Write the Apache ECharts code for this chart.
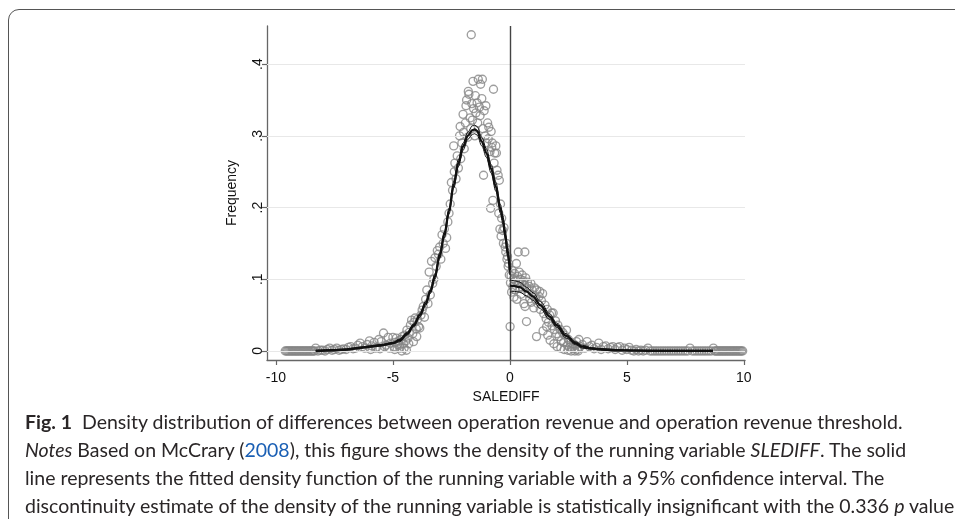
<!DOCTYPE html>
<html>
<head>
<meta charset="utf-8">
<script src="https://cdn.jsdelivr.net/npm/echarts@6/dist/echarts.min.js"></script>
<style>
  html, body { margin: 0; padding: 0; background: #fff; overflow: hidden; }
  #frame { position: absolute; left: 8px; top: 9px; width: 1100px; height: 700px;
    border: 1.6px solid #555; border-radius: 11px; box-sizing: border-box; }
  #chart { position: absolute; left: 0; top: 0; width: 955px; height: 519px; }
  #caption { position: absolute; left: 25px; top: 408px; white-space: nowrap;
    font-family: Lato, "Open Sans", sans-serif;
    font-size: 19.5px; line-height: 28px; color: #2a2627; }
  #caption .lnk { color: #1a5fb4; }
</style>
</head>
<body>
<div id="frame"></div>
<div id="chart"></div>
<div id="caption">
  <div><b>Fig. 1</b>&nbsp; Density distribution of differences between operation revenue and operation revenue threshold.</div>
  <div><i>Notes</i> Based on McCrary (<span class="lnk">2008</span>), this figure shows the density of the running variable <i>SLEDIFF</i>. The solid</div>
  <div>line represents the fitted density function of the running variable with a 95% confidence interval. The</div>
  <div>discontinuity estimate of the density of the running variable is statistically insignificant with the 0.336 <i>p</i> value</div>
</div>
<script>
// axis ticks
const xTicks = [-10, -5, 0, 5, 10];
const yTicks = [0, 0.1, 0.2, 0.3, 0.4];
const yTickLabels = ['0', '.1', '.2', '.3', '.4'];

// bins with zero frequency at both ends
const leftZeroX = [-9.60, -9.55, -9.50, -9.45, -9.40, -9.35, -9.30, -9.25, -9.20, -9.15, -9.10, -9.05, -9.00,
  -8.95, -8.90, -8.85, -8.80, -8.75, -8.70, -8.65, -8.60, -8.55, -8.50, -8.45, -8.40];
const rightZeroX = [8.75, 8.80, 8.85, 8.90, 8.95, 9.00, 9.05, 9.10, 9.15, 9.20, 9.25, 9.30, 9.35, 9.40, 9.45,
  9.50, 9.55, 9.60, 9.65, 9.70, 9.75, 9.80, 9.85, 9.90, 9.95];

// binned frequencies [SALEDIFF, frequency]
const binsLeft = [
  [-8.35, 0.000], [-8.30, 0.004], [-8.20, 0.000], [-8.10, 0.001], [-8.00, 0.001], [-7.90, 0.000], [-7.80, 0.002],
  [-7.70, 0.004], [-7.60, 0.001], [-7.50, 0.002], [-7.40, 0.004], [-7.30, 0.001], [-7.20, 0.002], [-7.10, 0.003],
  [-7.00, 0.002], [-6.90, 0.005], [-6.80, 0.006], [-6.70, 0.003], [-6.60, 0.004], [-6.50, 0.008], [-6.40, 0.011],
  [-6.30, 0.006], [-6.20, 0.004], [-6.10, 0.009], [-6.00, 0.014], [-5.95, 0.002], [-5.90, 0.007], [-5.80, 0.012],
  [-5.75, 0.004], [-5.70, 0.005], [-5.60, 0.016], [-5.55, 0.003], [-5.50, 0.013], [-5.40, 0.025], [-5.35, 0.006],
  [-5.30, 0.008], [-5.20, 0.019], [-5.15, 0.004], [-5.10, 0.011], [-5.00, 0.019],
  [-4.95, 0.006], [-4.92, 0.002], [-4.90, 0.012], [-4.85, 0.018], [-4.80, 0.009], [-4.75, 0.014], [-4.72, 0.008],
  [-4.70, 0.004], [-4.65, 0.016], [-4.62, 0.000], [-4.60, 0.020], [-4.55, 0.010], [-4.52, 0.004], [-4.50, 0.022],
  [-4.45, 0.014], [-4.42, 0.001], [-4.40, 0.029], [-4.35, 0.018], [-4.32, 0.010], [-4.30, 0.026], [-4.25, 0.036],
  [-4.20, 0.043], [-4.15, 0.024], [-4.12, 0.013], [-4.10, 0.040], [-4.05, 0.046], [-4.00, 0.031], [-3.98, 0.020],
  [-3.95, 0.044], [-3.90, 0.034], [-3.85, 0.032], [-3.80, 0.050], [-3.75, 0.057], [-3.70, 0.062], [-3.65, 0.047],
  [-3.60, 0.072], [-3.55, 0.085], [-3.50, 0.066], [-3.45, 0.110], [-3.40, 0.078], [-3.35, 0.125], [-3.30, 0.094],
  [-3.25, 0.100], [-3.20, 0.130], [-3.15, 0.118], [-3.10, 0.140], [-3.05, 0.135], [-3.00, 0.145], [-2.95, 0.128],
  [-2.90, 0.162], [-2.85, 0.150], [-2.80, 0.170], [-2.75, 0.143], [-2.70, 0.158], [-2.65, 0.180], [-2.60, 0.192],
  [-2.55, 0.205], [-2.50, 0.235], [-2.45, 0.224],
  [-2.40, 0.286], [-2.375, 0.250], [-2.35, 0.262], [-2.30, 0.240], [-2.25, 0.272], [-2.20, 0.255], [-2.15, 0.300],
  [-2.125, 0.313], [-2.10, 0.268], [-2.05, 0.290], [-2.00, 0.330], [-1.975, 0.305], [-1.95, 0.282], [-1.90, 0.318],
  [-1.875, 0.342], [-1.85, 0.350], [-1.80, 0.298], [-1.775, 0.362], [-1.75, 0.358], [-1.70, 0.325], [-1.675, 0.310],
  [-1.65, 0.441], [-1.625, 0.345], [-1.60, 0.322], [-1.575, 0.376], [-1.55, 0.338], [-1.50, 0.300], [-1.475, 0.356],
  [-1.45, 0.332], [-1.40, 0.346], [-1.375, 0.318], [-1.35, 0.379], [-1.30, 0.340], [-1.275, 0.328], [-1.25, 0.372],
  [-1.20, 0.352], [-1.175, 0.379], [-1.15, 0.310], [-1.125, 0.245], [-1.10, 0.335], [-1.05, 0.300], [-1.025, 0.342],
  [-1.00, 0.290], [-0.95, 0.318], [-0.925, 0.296], [-0.90, 0.312], [-0.85, 0.278], [-0.825, 0.199], [-0.80, 0.306],
  [-0.775, 0.284], [-0.75, 0.290], [-0.725, 0.210], [-0.70, 0.365], [-0.675, 0.262], [-0.65, 0.276], [-0.60, 0.286],
  [-0.575, 0.276], [-0.55, 0.252], [-0.50, 0.245], [-0.475, 0.192], [-0.45, 0.238], [-0.425, 0.170], [-0.40, 0.205],
  [-0.375, 0.160], [-0.35, 0.185], [-0.30, 0.168], [-0.275, 0.150], [-0.25, 0.172], [-0.20, 0.145], [-0.175, 0.138],
  [-0.15, 0.150], [-0.125, 0.128], [-0.10, 0.132], [-0.075, 0.118], [-0.05, 0.122], [-0.025, 0.106]
];
const binsRight = [
  [0.01, 0.034], [0.025, 0.095], [0.05, 0.105], [0.075, 0.082], [0.10, 0.112], [0.125, 0.090], [0.15, 0.100],
  [0.175, 0.075], [0.20, 0.108], [0.225, 0.085], [0.25, 0.098], [0.28, 0.122], [0.30, 0.072], [0.325, 0.104],
  [0.36, 0.138], [0.375, 0.094], [0.40, 0.110], [0.425, 0.088], [0.45, 0.100], [0.475, 0.079], [0.50, 0.096],
  [0.525, 0.106], [0.55, 0.086], [0.575, 0.098], [0.60, 0.066], [0.625, 0.092], [0.64, 0.138], [0.65, 0.062],
  [0.675, 0.102], [0.71, 0.041], [0.725, 0.088], [0.75, 0.096], [0.80, 0.080], [0.825, 0.090], [0.85, 0.073],
  [0.90, 0.094], [0.925, 0.068], [0.95, 0.085], [1.00, 0.078], [1.025, 0.060], [1.05, 0.088], [1.10, 0.072],
  [1.14, 0.020], [1.15, 0.085], [1.20, 0.066], [1.25, 0.076], [1.28, 0.083], [1.30, 0.058], [1.35, 0.070],
  [1.40, 0.080], [1.42, 0.028], [1.45, 0.052], [1.50, 0.064], [1.55, 0.045], [1.57, 0.034], [1.60, 0.058],
  [1.62, 0.022], [1.65, 0.040], [1.70, 0.050], [1.72, 0.015], [1.78, 0.053], [1.80, 0.035], [1.85, 0.053],
  [1.88, 0.010], [1.90, 0.030], [1.95, 0.042], [2.00, 0.024], [2.02, 0.006], [2.05, 0.036], [2.10, 0.020],
  [2.15, 0.030], [2.18, 0.004], [2.20, 0.014], [2.25, 0.026], [2.30, 0.012], [2.32, 0.002], [2.35, 0.022],
  [2.42, 0.029], [2.45, 0.008], [2.48, 0.001], [2.50, 0.016], [2.55, 0.005], [2.60, 0.012], [2.62, 0.000],
  [2.65, 0.004], [2.70, 0.010], [2.75, 0.003], [2.78, 0.000], [2.80, 0.008], [2.85, 0.013], [2.90, 0.002],
  [2.92, 0.000], [2.95, 0.016], [3.00, 0.006],
  [3.10, 0.009], [3.20, 0.004], [3.30, 0.013], [3.40, 0.006], [3.50, 0.008], [3.60, 0.003], [3.70, 0.005],
  [3.80, 0.011], [3.90, 0.002], [4.00, 0.006], [4.10, 0.007], [4.20, 0.003], [4.30, 0.005], [4.40, 0.006],
  [4.50, 0.002], [4.60, 0.005], [4.70, 0.006], [4.80, 0.001], [4.90, 0.004], [5.00, 0.002], [5.10, 0.005],
  [5.20, 0.001], [5.30, 0.000], [5.40, 0.002], [5.50, 0.000], [5.60, 0.001], [5.70, 0.000], [5.80, 0.001],
  [5.90, 0.004], [6.00, 0.000], [6.10, 0.000], [6.20, 0.000], [6.30, 0.000], [6.40, 0.000], [6.50, 0.000],
  [6.60, 0.000], [6.70, 0.000], [6.80, 0.000], [6.90, 0.000], [7.00, 0.000], [7.10, 0.000], [7.20, 0.000],
  [7.30, 0.000], [7.40, 0.000], [7.50, 0.000], [7.60, 0.000], [7.70, 0.004], [7.80, 0.000], [7.90, 0.000],
  [8.00, 0.000], [8.10, 0.000], [8.20, 0.000], [8.30, 0.000], [8.40, 0.000], [8.50, 0.000], [8.60, 0.000],
  [8.70, 0.004]
];

// fitted density, left of the cutoff, with 95% CI
const fitLeftX = [-8.3, -7.5, -7.0, -6.5, -6.0, -5.5, -5.0, -4.7, -4.4, -4.1, -3.85, -3.6, -3.4, -3.2, -3.0, -2.8,
  -2.6, -2.4, -2.2, -2.0, -1.8, -1.6, -1.5, -1.4, -1.2, -1.0, -0.8, -0.6, -0.4, -0.3, -0.2, -0.1, 0];
const fitLeftY = [0.000, 0.001, 0.002, 0.004, 0.006, 0.008, 0.011, 0.015, 0.024, 0.036, 0.050, 0.066, 0.083, 0.104,
  0.133, 0.162, 0.195, 0.232, 0.262, 0.285, 0.300, 0.308, 0.309, 0.307, 0.292, 0.276, 0.254, 0.229, 0.198, 0.183,
  0.163, 0.138, 0.113];
const fitLeftHi = [0.001, 0.002, 0.003, 0.005, 0.007, 0.009, 0.012, 0.017, 0.026, 0.038, 0.053, 0.069, 0.086, 0.108,
  0.137, 0.166, 0.199, 0.237, 0.267, 0.290, 0.305, 0.314, 0.315, 0.313, 0.298, 0.282, 0.260, 0.235, 0.204, 0.189,
  0.169, 0.144, 0.120];
const fitLeftLo = [0.000, 0.000, 0.001, 0.003, 0.005, 0.007, 0.010, 0.013, 0.022, 0.034, 0.047, 0.063, 0.080, 0.100,
  0.129, 0.158, 0.191, 0.227, 0.257, 0.280, 0.295, 0.302, 0.303, 0.301, 0.286, 0.270, 0.248, 0.223, 0.192, 0.177,
  0.157, 0.132, 0.106];

// fitted density, right of the cutoff, with 95% CI
const fitRightX = [0, 0.2, 0.43, 0.7, 1.0, 1.3, 1.7, 2.0, 2.4, 2.8, 3.1, 3.5, 3.85, 4.5, 5.3, 6.5, 7.5, 8.68];
const fitRightY = [0.091, 0.0905, 0.089, 0.083, 0.0757, 0.064, 0.048, 0.036, 0.021, 0.011, 0.006, 0.0035, 0.0024,
  0.001, 0.0004, 0.0001, 0.000, 0.000];
const fitRightHi = [0.099, 0.098, 0.096, 0.089, 0.081, 0.069, 0.052, 0.039, 0.024, 0.013, 0.008, 0.0045, 0.0034,
  0.002, 0.0014, 0.0011, 0.001, 0.001];
const fitRightLo = [0.082, 0.083, 0.082, 0.077, 0.0705, 0.059, 0.044, 0.033, 0.018, 0.009, 0.004, 0.0025, 0.0014,
  0.000, 0.000, 0.000, 0.000, 0.000];

const zip = (xs, ys) => xs.map((x, i) => [x, ys[i]]);
const points = leftZeroX.map(x => [x, 0]).concat(binsLeft, binsRight, rightZeroX.map(x => [x, 0]));

const axisFont = 'Liberation Sans';
const lineSeries = (data, width) => ({
  type: 'line', data: data, showSymbol: false, smooth: 0.35, smoothMonotone: 'x', z: 5,
  silent: true, lineStyle: { color: '#111', width: width }
});

var chart = echarts.init(document.getElementById('chart'));
chart.setOption({
  animation: false,
  grid: { left: 267, top: 26, width: 478, height: 334, outerBoundsMode: 'none', containLabel: false },
  xAxis: {
    type: 'value', min: -10.38, max: 10.05,
    name: 'SALEDIFF', nameLocation: 'middle', nameGap: 25,
    nameTextStyle: { color: '#111', fontSize: 14, fontFamily: axisFont },
    axisLine: { show: true, onZero: false, lineStyle: { color: '#666', width: 1.3 } },
    axisTick: { show: true, length: 5, customValues: xTicks, lineStyle: { color: '#666', width: 1.2 } },
    axisLabel: { customValues: xTicks, color: '#111', fontSize: 14, fontFamily: axisFont, margin: 11 },
    splitLine: { show: false }
  },
  yAxis: {
    type: 'value', min: -0.0126, max: 0.4532,
    name: 'Frequency', nameLocation: 'middle', nameGap: 28,
    nameTextStyle: { color: '#111', fontSize: 14, fontFamily: axisFont },
    axisLine: { show: true, onZero: false, lineStyle: { color: '#666', width: 1.3 } },
    axisTick: { show: true, length: 5, customValues: yTicks, lineStyle: { color: '#666', width: 1.2 } },
    axisLabel: {
      customValues: yTicks, rotate: 90, color: '#111', fontSize: 14, fontFamily: axisFont, margin: 2,
      formatter: function (v) {
        var i = yTicks.findIndex(t => Math.abs(t - v) < 1e-9);
        return i >= 0 ? yTickLabels[i] : '';
      }
    },
    splitLine: { show: false }
  },
  series: [
    {
      // horizontal grid lines at the y ticks
      type: 'line', data: [], z: 1, silent: true,
      markLine: {
        silent: true, symbol: 'none', label: { show: false },
        lineStyle: { color: '#e8e8e8', width: 1.2, type: 'solid' },
        data: yTicks.map(v => ({ yAxis: v }))
      }
    },
    {
      type: 'scatter', data: points, symbol: 'circle', symbolSize: 8, z: 3, silent: true,
      itemStyle: { color: 'rgba(0,0,0,0)', borderColor: '#868686', borderWidth: 1.35 }
    },
    {
      // cutoff at zero
      type: 'line', data: [], z: 4, silent: true,
      markLine: {
        silent: true, symbol: 'none', label: { show: false },
        lineStyle: { color: '#444', width: 1.4, type: 'solid' },
        data: [{ xAxis: 0 }]
      }
    },
    lineSeries(zip(fitLeftX, fitLeftHi), 1),
    lineSeries(zip(fitLeftX, fitLeftLo), 1),
    lineSeries(zip(fitLeftX, fitLeftY), 2.3),
    lineSeries(zip(fitRightX, fitRightHi), 1),
    lineSeries(zip(fitRightX, fitRightLo), 1),
    lineSeries(zip(fitRightX, fitRightY), 2.3)
  ]
});
</script>
</body>
</html>
